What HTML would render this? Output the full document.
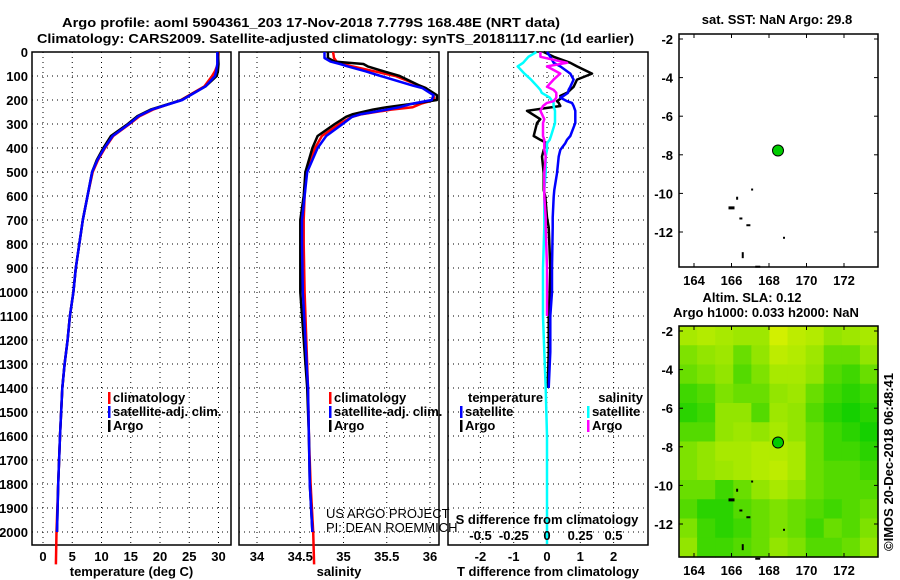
<!DOCTYPE html>
<html><head><meta charset="utf-8"><style>
html,body{margin:0;padding:0;background:#fff;}
svg{display:block;font-family:"Liberation Sans",sans-serif;}
.b{font-weight:bold;font-size:13px;}
</style></head><body>
<svg id="c" width="900" height="580" viewBox="0 0 900 580" xmlns="http://www.w3.org/2000/svg">
<text x="62" y="27" class="b" font-size="14" textLength="498" lengthAdjust="spacingAndGlyphs">Argo profile: aoml 5904361_203 17-Nov-2018 7.779S 168.48E (NRT data)</text>
<text x="37" y="43" class="b" font-size="14" textLength="597" lengthAdjust="spacingAndGlyphs">Climatology: CARS2009. Satellite-adjusted climatology: synTS_20181117.nc (1d earlier)</text>
<g id="g"></g>
</svg>
<script>
// ---- data ----
const depthT = [0,50,80,100,143,200,240,268,300,350,400,450,500,600,700,800,900,1000,1100,1200,1300,1400,1600,1800,2000];
const tempClim = [30.0,29.9,29.4,28.9,27.6,23.6,18.8,16.5,14.8,12.0,10.6,9.4,8.5,7.6,6.8,6.2,5.6,5.2,4.6,4.2,3.7,3.3,2.9,2.6,2.3];
const tempSat = [29.8,29.8,29.6,29.4,27.8,23.8,18.6,16.3,14.7,11.9,10.5,9.3,8.4,7.6,6.8,6.2,5.6,5.2,4.6,4.2,3.7,3.3,2.9,2.6,2.4];
const tempArgo = [29.9,30.0,29.9,29.7,27.8,23.7,18.4,16.1,14.5,11.6,10.3,9.2,8.4,7.6,6.8,6.2,5.6,5.2,4.6,4.2,3.7,3.3,2.9,2.6,2.4];
const depthS = [0,25,40,50,60,80,100,140,150,180,200,215,230,240,260,270,300,350,400,500,600,700,800,1000,1400,1600,1800,2000];
const salClim = [34.88,34.89,34.92,35.0,35.1,35.35,35.6,35.88,35.95,36.04,36.05,35.9,35.8,35.55,35.2,35.1,34.95,34.75,34.67,34.57,34.55,34.54,34.54,34.55,34.59,34.6,34.62,34.65];
const salSat = [34.78,34.78,34.85,34.96,35.05,35.25,35.43,35.8,35.91,36.04,36.02,35.8,35.65,35.5,35.19,35.1,34.99,34.8,34.7,34.58,34.55,34.52,34.52,34.53,34.59,34.6,34.61,34.64];
const salArgo = [34.82,34.82,34.9,35.23,35.28,35.46,35.65,35.88,35.95,36.08,36.08,35.81,35.5,35.34,35.1,35.03,34.9,34.7,34.64,34.56,34.54,34.5,34.5,34.5,34.58,34.6,34.61,34.64];
const depthD = [0,20,45,60,90,115,145,158,170,183,190,205,212,225,245,280,296,350,366,380,408,436,505,575,603,690,730,900,1000,1100,1250,1400,1600,1800,2000,2050];
const dTsat = [0.0,0.1,0.2,0.4,0.7,0.8,0.7,0.65,0.63,0.5,0.4,0.6,0.75,0.8,0.85,0.85,0.85,0.7,0.6,0.55,0.4,0.35,0.3,0.22,0.2,0.17,0.17,0.15,0.15,0.1,0.1,0.05,0.02,0.01,0.0,0.0];
const dTargo = [-0.1,0.2,0.7,0.9,1.35,0.9,0.8,0.7,0.6,0.4,0.45,0.3,0.35,0.4,-0.6,-0.2,-0.3,-0.4,-0.2,0.0,-0.1,-0.15,-0.1,-0.1,-0.05,0.0,0.05,0.1,0.08,0.05,0.05,0.02,0.0,0.0,0.0,0.0];
const dSsat = [-0.08,-0.14,-0.18,-0.22,-0.17,-0.12,-0.07,-0.05,-0.04,0.0,0.02,0.04,0.05,0.05,0.06,0.06,0.06,0.03,0.02,0.0,0.0,-0.01,-0.01,-0.02,-0.02,-0.02,-0.02,-0.03,-0.03,-0.03,-0.02,-0.01,0.0,0.0,0.0,0.0];
const dSargo = [-0.05,-0.05,0.15,0.0,0.1,0.05,0.0,0.05,0.07,0.07,0.07,0.05,0.0,-0.03,-0.05,-0.02,-0.03,-0.03,-0.02,-0.02,-0.02,-0.01,-0.02,-0.02,-0.02,-0.01,-0.01,0.0,0.0,0.0,0.0,0.0,0.0,0.0,0.0,0.0];
const depthTicks = [0,100,200,300,400,500,600,700,800,900,1000,1100,1200,1300,1400,1500,1600,1700,1800,1900,2000];
const tempTicks = [0,5,10,15,20,25,30];
const salTicks = [34,34.5,35,35.5,36];
const tdTicks = [-2,-1,0,1,2];
const sdTicks = [-0.5,-0.25,0,0.25,0.5];
const lonTicks = [164,166,168,170,172];
const latTicks = [-2,-4,-6,-8,-10,-12];
const argoLon = [168.48];
const argoLat = [-7.779];
const slaGrid = [
[0.8,0.85,0.8,0.75,0.75,1.0,0.9,0.85,0.7,0.75,0.8],
[0.6,0.7,0.75,0.5,0.7,0.9,0.85,0.75,0.5,0.5,0.7],
[0.5,0.6,0.7,0.4,0.6,0.8,0.8,0.7,0.4,0.3,0.5],
[0.3,0.4,0.6,0.5,0.5,0.7,0.75,0.5,0.3,0.2,0.3],
[0.2,0.3,0.7,0.7,0.4,0.75,0.7,0.4,0.2,0.1,0.2],
[0.4,0.4,0.7,0.75,0.7,0.8,0.7,0.5,0.3,0.2,0.1],
[0.6,0.7,0.8,0.8,0.85,0.85,0.8,0.5,0.3,0.3,0.2],
[0.6,0.7,0.75,0.8,0.85,0.9,0.8,0.5,0.4,0.4,0.3],
[0.5,0.5,0.3,0.5,0.7,0.8,0.7,0.5,0.4,0.4,0.4],
[0.4,0.2,0.2,0.4,0.5,0.6,0.5,0.4,0.3,0.4,0.5],
[0.6,0.3,0.2,0.3,0.5,0.6,0.5,0.3,0.5,0.4,0.6],
[0.7,0.3,0.3,0.4,0.5,0.7,0.6,0.4,0.4,0.5,0.7]];

const NS='http://www.w3.org/2000/svg';
const G=document.getElementById('g');
function mk(tag,attrs,parent){const e=document.createElementNS(NS,tag);for(const k in attrs)e.setAttribute(k,attrs[k]);(parent||G).appendChild(e);return e;}
function txt(x,y,s,anchor,cls,parent){const t=mk('text',{x:x,y:y,'text-anchor':anchor||'start','class':cls||'b'},parent);t.textContent=s;return t;}

const yTop=52, yBot=545;
function yD(d){return yTop+d*0.24;}
const panels=[
 {x0:32,x1:231,f:v=>43+v*5.85,ticks:tempTicks,lab:'temperature (deg C)',name:'temperature'},
 {x0:239,x1:439,f:v=>257+(v-34)*86.5,ticks:salTicks,lab:'salinity',name:'salinity'},
 {x0:448,x1:648,f:v=>547+v*33.3,ticks:tdTicks,lab:'T difference from climatology',name:'difference'}];
const sx=v=>547+v*133;

panels.forEach((p,i)=>{
  const g=mk('g',{});
  
  
  depthTicks.forEach(d=>{const l=mk('line',{x1:p.x0,x2:p.x1,y1:yD(d),y2:yD(d),stroke:'#000','stroke-dasharray':'1 4','stroke-width':1},g);
    });
  p.ticks.forEach(v=>{const x=p.f(v);const l=mk('line',{x1:x,x2:x,y1:yTop,y2:yBot,stroke:'#000','stroke-dasharray':'1 4','stroke-width':1},g);
    
    const t=txt(x,561,String(v),'middle','b',g);});
  const r=mk('rect',{x:p.x0,y:yTop,width:p.x1-p.x0,height:yBot-yTop,fill:'none',stroke:'#000','stroke-width':1.5},g);
  
  const xl=txt((p.x0+p.x1)/2,576,p.lab,'middle','b',g);
  
});
depthTicks.forEach(d=>{const t=txt(28,yD(d)+5,String(d),'end','b');
  });

function line(xs,ys,fx,color,w,name){
  let d='';for(let i=0;i<xs.length;i++){d+=(i?'L':'M')+fx(xs[i]).toFixed(1)+' '+yD(ys[i]).toFixed(1);}
  const p=mk('path',{d:d,fill:'none',stroke:color,'stroke-width':w,'stroke-linejoin':'round'});
  
}
const fT=panels[0].f,fS=panels[1].f,fD=panels[2].f;
line(tempClim.concat([2.2]),depthT.concat([2135]),fT,'#f00',2.5,'temperature-climatology-line');
line(tempArgo,depthT,fT,'#000',2.5,'temperature-argo-line');
line(tempSat,depthT,fT,'#00f',2.5,'temperature-satellite-line');
line(salClim.concat([34.66]),depthS.concat([2135]),fS,'#f00',2.5,'salinity-climatology-line');
line(salArgo,depthS,fS,'#000',2.5,'salinity-argo-line');
line(salSat,depthS,fS,'#00f',2.5,'salinity-satellite-line');
line(dTargo.slice(0,32),depthD.slice(0,32),fD,'#000',2.5,'tdiff-argo-line');
line(dTsat.slice(0,32),depthD.slice(0,32),fD,'#00f',2.5,'tdiff-satellite-line');
line(dSsat,depthD,sx,'#0ff',2.5,'sdiff-satellite-line');
line(dSargo.slice(0,30),depthD.slice(0,30),sx,'#f0f',2.5,'sdiff-argo-line');

const sl=txt(547,524,'S difference from climatology','middle','b');

sdTicks.forEach(v=>{const t=txt(sx(v),540,String(v),'middle','b');
  });

function leg(x,y,color,label,name){
  const r=mk('rect',{x:x,y:y-10,width:2.5,height:12,fill:color});
  
  const t=txt(x+5,y,label,'start','b');
}
[[108,'temperature'],[329,'salinity']].forEach(([x,n])=>{
  leg(x,402,'#f00','climatology',n+'-legend-climatology');
  leg(x,416,'#00f','satellite-adj. clim.',n+'-legend-satellite');
  leg(x,430,'#000','Argo',n+'-legend-argo');
});
let t1=txt(468,402,'temperature','start','b');
let t2=txt(643,402,'salinity','end','b');
leg(460,416,'#00f','satellite','diff-legend-t-satellite');
leg(460,430,'#000','Argo','diff-legend-t-argo');
leg(587,416,'#0ff','satellite','diff-legend-s-satellite');
leg(587,430,'#f0f','Argo','diff-legend-s-argo');
let u1=txt(326,518,'US ARGO PROJECT','start');u1.setAttribute('class','');u1.setAttribute('font-size','13');
let u2=txt(326,532,'PI: DEAN ROEMMICH','start');u2.setAttribute('class','');u2.setAttribute('font-size','13');

const mx0=679,mx1=878;
const lonX=v=>694+(v-164)*18.75;
function mapPanel(y0,y1,title,name,heat){
  const latY=v=>y0+5+(-2-v)*19.3;
  const g=mk('g',{});
  
  if(heat){
    const rows=slaGrid.length, cols=slaGrid[0].length;
    const cw=(mx1-mx0)/cols, ch=(y1-y0)/rows;
    slaGrid.forEach((row,ri)=>row.forEach((v,ci)=>{
      const r=Math.round(0+v*210), gg=Math.round(204+v*36);
      const c=mk('rect',{x:mx0+ci*cw,y:y0+ri*ch,width:cw+0.6,height:ch+0.6,fill:`rgb(${r},${gg},0)`},g);
      
    }));
  }
  [[166.0,-10.75,6,3],[166.5,-11.3,3,2],[166.9,-11.65,4,2],[166.6,-13.2,2,6],[167.4,-13.8,5,2],[166.3,-10.25,2,3],[167.1,-9.8,2,2],[168.8,-12.3,2,2]].forEach(a=>{
    const e=mk('rect',{x:lonX(a[0])-a[2]/2,y:latY(a[1])-a[3]/2,width:a[2],height:a[3],fill:'#000'},g);
    
  });
  const f=mk('rect',{x:mx0,y:y0,width:mx1-mx0,height:y1-y0,fill:'none',stroke:'#000','stroke-width':1.5},g);
  
  latTicks.forEach(v=>{const y=latY(v);
    mk('line',{x1:mx0,x2:mx0+4,y1:y,y2:y,stroke:'#000'},g);mk('line',{x1:mx1-4,x2:mx1,y1:y,y2:y,stroke:'#000'},g);
    const t=txt(mx0-6,y+5,String(v),'end','b',g);});
  lonTicks.forEach(v=>{const x=lonX(v);
    mk('line',{x1:x,x2:x,y1:y1-4,y2:y1,stroke:'#000'},g);mk('line',{x1:x,x2:x,y1:y0,y2:y0+4,stroke:'#000'},g);
    const t=txt(x,y1+18,String(v),'middle','b',g);});
  argoLon.forEach((lo,i)=>{const d=mk('circle',{cx:lonX(lo),cy:latY(argoLat[i]),r:5.5,fill:'#00cc00',stroke:'#000','stroke-width':1},g);
    });
  title.forEach(s=>{const t=txt(s[1],s[2],s[0],'middle','b',g);});
}
mapPanel(34,267,[['sat. SST: NaN Argo: 29.8',777,24]],'sst-map',false);
mapPanel(326,557,[['Altim. SLA: 0.12',752,302],['Argo h1000: 0.033 h2000: NaN',766,317]],'sla-map',true);
const cp=txt(0,0,'©IMOS 20-Dec-2018 06:48:41','middle','');
cp.setAttribute('font-size','12');cp.setAttribute('transform','translate(893,462) rotate(-90)');

</script>
</body></html>
